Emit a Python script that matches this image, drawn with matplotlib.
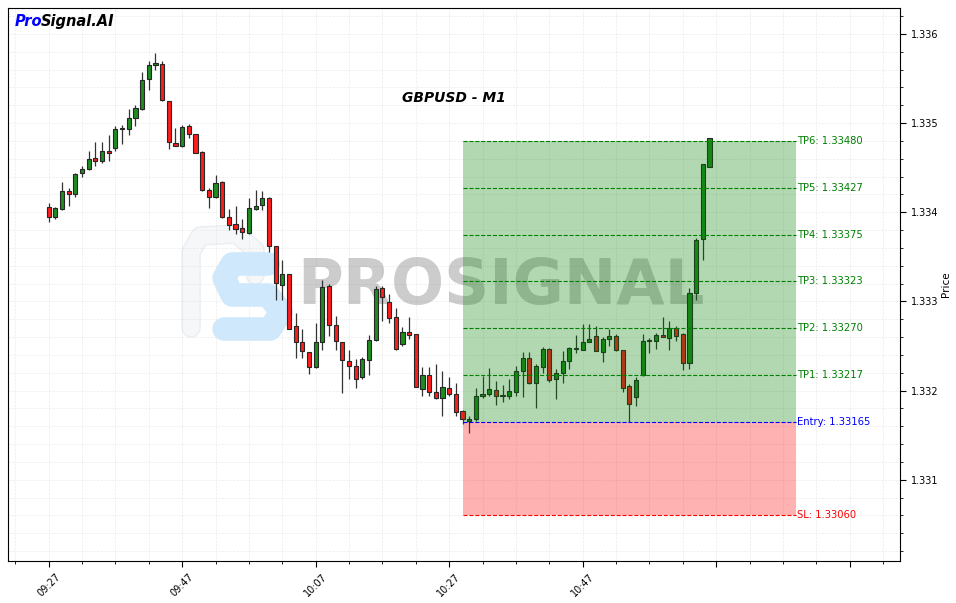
import matplotlib
matplotlib.use("Agg")
from matplotlib import pyplot as plt
from matplotlib.ticker import MultipleLocator, FuncFormatter, FormatStrFormatter
import matplotlib.patheffects as pe
import pandas as pd

# GBPUSD M1 candles
opens = [1.33406, 1.33395, 1.33404, 1.33424, 1.33421, 1.33444, 1.33448, 1.33461, 1.33458, 1.33469,
         1.33472, 1.33494, 1.33493, 1.33506, 1.33516, 1.33549, 1.33565, 1.33566, 1.33525, 1.33478,
         1.33474, 1.33497, 1.33488, 1.33468, 1.33425, 1.33417, 1.33434, 1.33395, 1.33387, 1.33382,
         1.33377, 1.33404, 1.33408, 1.33416, 1.33362, 1.33318, 1.33331, 1.33272, 1.33254, 1.33243,
         1.33226, 1.33255, 1.33317, 1.33274, 1.33254, 1.33233, 1.33228, 1.33215, 1.33234, 1.33257,
         1.33315, 1.33299, 1.33283, 1.33252, 1.33266, 1.33264, 1.33202, 1.33218, 1.33199, 1.33192,
         1.33203, 1.33196, 1.33177, 1.33166, 1.33168, 1.33194, 1.33196, 1.33201, 1.33194, 1.33194,
         1.33199, 1.33222, 1.33237, 1.33209, 1.33227, 1.33247, 1.33213, 1.33220, 1.33233, 1.33247,
         1.33246, 1.33255, 1.33261, 1.33243, 1.33258, 1.33261, 1.33246, 1.33205, 1.33193, 1.33217,
         1.33256, 1.33256, 1.33262, 1.33259, 1.33270, 1.33263, 1.33231, 1.33309, 1.33370, 1.33451]
highs = [1.33410, 1.33406, 1.33434, 1.33427, 1.33444, 1.33452, 1.33469, 1.33479, 1.33479, 1.33487,
         1.33497, 1.33498, 1.33516, 1.33520, 1.33557, 1.33570, 1.33579, 1.33570, 1.33525, 1.33494,
         1.33498, 1.33499, 1.33488, 1.33469, 1.33427, 1.33442, 1.33435, 1.33404, 1.33407, 1.33392,
         1.33416, 1.33425, 1.33424, 1.33417, 1.33362, 1.33347, 1.33331, 1.33287, 1.33269, 1.33243,
         1.33276, 1.33324, 1.33320, 1.33284, 1.33255, 1.33246, 1.33236, 1.33238, 1.33262, 1.33317,
         1.33317, 1.33308, 1.33293, 1.33271, 1.33283, 1.33264, 1.33226, 1.33227, 1.33230, 1.33222,
         1.33215, 1.33209, 1.33178, 1.33172, 1.33203, 1.33216, 1.33225, 1.33211, 1.33206, 1.33213,
         1.33228, 1.33243, 1.33243, 1.33230, 1.33249, 1.33248, 1.33224, 1.33244, 1.33249, 1.33262,
         1.33275, 1.33275, 1.33273, 1.33260, 1.33269, 1.33264, 1.33246, 1.33207, 1.33215, 1.33264,
         1.33259, 1.33265, 1.33283, 1.33278, 1.33272, 1.33265, 1.33315, 1.33371, 1.33454, 1.33483]
lows = [1.33389, 1.33392, 1.33403, 1.33407, 1.33417, 1.33439, 1.33447, 1.33452, 1.33455, 1.33457,
        1.33469, 1.33477, 1.33487, 1.33497, 1.33515, 1.33537, 1.33559, 1.33525, 1.33471, 1.33474,
        1.33473, 1.33483, 1.33467, 1.33424, 1.33405, 1.33416, 1.33394, 1.33380, 1.33376, 1.33370,
        1.33376, 1.33403, 1.33402, 1.33355, 1.33302, 1.33302, 1.33269, 1.33237, 1.33237, 1.33219,
        1.33225, 1.33245, 1.33261, 1.33246, 1.33197, 1.33213, 1.33203, 1.33213, 1.33217, 1.33256,
        1.33278, 1.33276, 1.33246, 1.33250, 1.33258, 1.33204, 1.33194, 1.33194, 1.33191, 1.33172,
        1.33194, 1.33172, 1.33163, 1.33153, 1.33166, 1.33192, 1.33194, 1.33184, 1.33187, 1.33191,
        1.33194, 1.33193, 1.33207, 1.33181, 1.33220, 1.33210, 1.33191, 1.33209, 1.33224, 1.33242,
        1.33246, 1.33254, 1.33244, 1.33232, 1.33250, 1.33244, 1.33199, 1.33165, 1.33183, 1.33216,
        1.33242, 1.33247, 1.33260, 1.33246, 1.33256, 1.33223, 1.33224, 1.33302, 1.33347, 1.33451]
closes = [1.33395, 1.33405, 1.33424, 1.33421, 1.33443, 1.33448, 1.33460, 1.33457, 1.33469, 1.33466,
          1.33493, 1.33493, 1.33506, 1.33517, 1.33548, 1.33565, 1.33567, 1.33526, 1.33479, 1.33474,
          1.33496, 1.33488, 1.33467, 1.33425, 1.33417, 1.33433, 1.33395, 1.33386, 1.33381, 1.33378,
          1.33405, 1.33407, 1.33416, 1.33362, 1.33321, 1.33331, 1.33269, 1.33255, 1.33244, 1.33226,
          1.33255, 1.33316, 1.33274, 1.33256, 1.33234, 1.33228, 1.33213, 1.33236, 1.33257, 1.33314,
          1.33305, 1.33281, 1.33247, 1.33266, 1.33262, 1.33204, 1.33218, 1.33199, 1.33192, 1.33204,
          1.33196, 1.33176, 1.33168, 1.33168, 1.33194, 1.33196, 1.33202, 1.33194, 1.33195, 1.33200,
          1.33222, 1.33237, 1.33209, 1.33228, 1.33247, 1.33212, 1.33220, 1.33233, 1.33248, 1.33248,
          1.33255, 1.33258, 1.33244, 1.33258, 1.33261, 1.33246, 1.33203, 1.33185, 1.33212, 1.33256,
          1.33257, 1.33262, 1.33260, 1.33270, 1.33261, 1.33231, 1.33309, 1.33369, 1.33454, 1.33483]

times = pd.date_range("2024-01-01 09:27", periods=len(opens), freq="min").strftime("%H:%M")

entry = 1.33165
sl = 1.33060
tps = [1.33217, 1.33270, 1.33323, 1.33375, 1.33427, 1.33480]
entry_idx = 62
zone_end = 112

fig = plt.figure(figsize=(9.56, 6.03), dpi=100)
ax = fig.add_axes([0.0084, 0.0697, 0.9334, 0.917])

x = list(range(len(opens)))
up = [c >= o for o, c in zip(opens, closes)]
cols = ['#1e8c1e' if u else '#ff1c1c' for u in up]
bottoms = [min(o, c) for o, c in zip(opens, closes)]
heights = [max(abs(c - o), 0.000004) for o, c in zip(opens, closes)]

ax.vlines(x, lows, highs, color='#333333', linewidth=0.9, zorder=2)
ax.bar(x, heights, bottom=bottoms, width=0.62, color=cols,
       edgecolor='#262626', linewidth=0.8, zorder=2.5)

# target / stop zones
ax.fill_between([entry_idx, zone_end], entry, tps[-1], color='green', alpha=0.3,
                linewidth=0, zorder=3)
ax.fill_between([entry_idx, zone_end], sl, entry, color='red', alpha=0.3,
                linewidth=0, zorder=3)

for n, tp in enumerate(tps, 1):
    ax.hlines(tp, entry_idx, zone_end, colors='green', linestyles='--', linewidth=0.8, zorder=4)
    ax.text(zone_end + 0.1, tp, f'TP{n}: {tp:.5f}', color='green', fontsize=7.2,
            ha='left', va='center', zorder=5)
ax.hlines(entry, entry_idx, zone_end, colors='blue', linestyles='--', linewidth=0.8, zorder=4)
ax.text(zone_end + 0.1, entry, f'Entry: {entry:.5f}', color='blue', fontsize=7.2,
        ha='left', va='center', zorder=5)
ax.hlines(sl, entry_idx, zone_end, colors='red', linestyles='--', linewidth=0.8, zorder=4)
ax.text(zone_end + 0.1, sl, f'SL: {sl:.5f}', color='red', fontsize=7.2,
        ha='left', va='center', zorder=5)

# watermark logo (drawn as strokes, in axes fractions)
def fx(px):
    return (px - 8) / 892

def fy(py):
    return (561 - py) / 553

p_pts = [(191, 328), (191, 252), (200, 236), (236, 234), (255, 250), (255, 275)]
ax.plot([fx(a) for a, b in p_pts], [fy(b) for a, b in p_pts], transform=ax.transAxes,
        color='#f5f7f9', linewidth=12, solid_capstyle='round', solid_joinstyle='round',
        zorder=0.5, path_effects=[pe.Stroke(linewidth=14, foreground='#ebeef1'), pe.Normal()])
s_pts = [(268, 264), (232, 264), (224, 278), (232, 295), (268, 295), (281, 312),
         (270, 329), (224, 329)]
ax.plot([fx(a) for a, b in s_pts], [fy(b) for a, b in s_pts], transform=ax.transAxes,
        color='#d0e8fc', linewidth=17, solid_capstyle='round', solid_joinstyle='round',
        zorder=0.6)
ax.text(0.553, 0.495, 'PROSIGNAL', transform=ax.transAxes, fontsize=45, fontweight='heavy',
        color='gray', alpha=0.4, ha='center', va='center', zorder=1)

ax.text(0.5, 0.838, 'GBPUSD - M1', transform=ax.transAxes, fontsize=10,
        fontweight='bold', fontstyle='italic', ha='center', va='center')
t1 = ax.text(0.008, 0.99, 'Pro', transform=ax.transAxes, fontsize=10.5, color='blue',
             fontweight='bold', fontstyle='italic', ha='left', va='top')
ax.annotate('Signal.AI', xy=(1, 0), xycoords=t1, xytext=(-1, 0), textcoords='offset points',
            fontsize=10.5, color='black', fontweight='bold', fontstyle='italic',
            ha='left', va='bottom')

ax.set_xlim(-6.09, 127.6)
ax.set_ylim(1.33009, 1.33629)

ax.yaxis.tick_right()
ax.yaxis.set_label_position('right')
ax.set_ylabel('Price', fontsize=7.5, labelpad=2)
ax.yaxis.set_major_locator(MultipleLocator(0.001))
ax.yaxis.set_minor_locator(MultipleLocator(0.0002))
ax.yaxis.set_major_formatter(FormatStrFormatter('%.3f'))

def fmt_time(v, pos):
    i = int(round(v))
    return times[i] if 0 <= i < len(times) else ''

ax.xaxis.set_major_locator(MultipleLocator(20))
ax.xaxis.set_minor_locator(MultipleLocator(5))
ax.xaxis.set_major_formatter(FuncFormatter(fmt_time))
plt.setp(ax.get_xticklabels(), rotation=45, ha='center')
ax.tick_params(axis='both', which='major', labelsize=7, length=4)
ax.tick_params(axis='both', which='minor', length=2)

ax.grid(True, which='both', linestyle='--', linewidth=0.5, color='#d8d8d8', alpha=0.5)
ax.set_axisbelow(True)

fig.savefig('out.png', dpi=100)
